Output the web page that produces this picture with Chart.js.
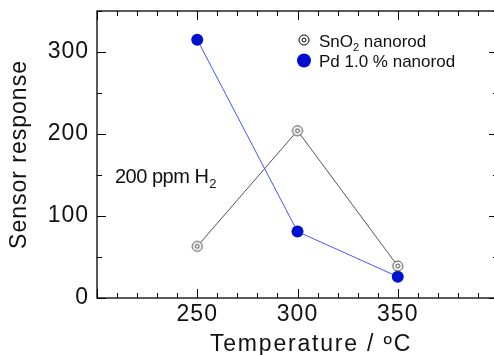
<!DOCTYPE html>
<html>
<head>
<meta charset="utf-8">
<script src="https://cdn.jsdelivr.net/npm/chart.js@4"></script>
<style>
  html, body { margin: 0; padding: 0; background: #fff; overflow: hidden; }
  #wrap { width: 494px; height: 355px; overflow: hidden; }
</style>
</head>
<body>
<div id="wrap"><canvas id="sensorChart" width="504" height="355"></canvas></div>
<script>
// data
const temperatures = [250, 300, 350];
const sno2Response = [63, 204, 39];
const pdResponse = [315, 81, 26];
const xTickLabels = [250, 300, 350];
const yTickLabels = [0, 100, 200, 300];

const FONT = '"Liberation Sans", Arial, sans-serif';

// double circle marker for SnO2
function ringMarker(size, color) {
  const c = document.createElement('canvas');
  c.width = size; c.height = size;
  const g = c.getContext('2d');
  const m = size / 2;
  g.fillStyle = '#fff';
  g.strokeStyle = color;
  g.lineWidth = 1;
  g.beginPath(); g.arc(m, m, 5, 0, Math.PI * 2); g.fill(); g.stroke();
  g.beginPath(); g.arc(m, m, 2, 0, Math.PI * 2); g.stroke();
  return c;
}
const sno2Marker = ringMarker(14, '#444');
const sno2LegendMarker = ringMarker(14, '#000');

// frame with inward ticks on all four sides, legend and note
const framePlugin = {
  id: 'frame',
  beforeDraw(chart) {
    chart.ctx.letterSpacing = '1px';
  },
  beforeDatasetsDraw(chart) {
    chart.ctx.letterSpacing = '0px';
  },
  afterDraw(chart) {
    const { ctx, chartArea: a, scales } = chart;
    const x = scales.x, y = scales.y;
    ctx.save();
    ctx.letterSpacing = '0px';
    ctx.strokeStyle = '#000';
    ctx.lineWidth = 1.3;
    ctx.strokeRect(a.left, a.top, a.right - a.left, a.bottom - a.top);
    ctx.lineWidth = 1;
    ctx.beginPath();
    for (let v = 200; v <= 400; v += 10) {
      const len = v % 50 === 0 ? 9 : 5;
      const px = Math.round(x.getPixelForValue(v)) + 0.5;
      ctx.moveTo(px, a.bottom); ctx.lineTo(px, a.bottom - len);
      ctx.moveTo(px, a.top); ctx.lineTo(px, a.top + len);
    }
    for (let v = 0; v <= 350; v += 50) {
      const len = v % 100 === 0 ? 9 : 5;
      const py = Math.round(y.getPixelForValue(v)) + 0.5;
      ctx.moveTo(a.left, py); ctx.lineTo(a.left + len, py);
      ctx.moveTo(a.right, py); ctx.lineTo(a.right - len, py);
    }
    ctx.stroke();

    // x axis title (offset right like the original)
    ctx.fillStyle = '#111';
    ctx.font = '23px ' + FONT;
    ctx.textAlign = 'center';
    ctx.textBaseline = 'alphabetic';
    ctx.letterSpacing = '1.8px';
    ctx.fillText('Temperature / ºC', 311, 351);
    ctx.letterSpacing = '0px';
    ctx.textAlign = 'left';

    // legend
    ctx.drawImage(sno2LegendMarker, 304 - 7, 40 - 7);
    ctx.fillStyle = '#0010d0';
    ctx.beginPath(); ctx.arc(304, 60.5, 7, 0, Math.PI * 2); ctx.fill();
    ctx.fillStyle = '#111';
    ctx.font = '17px ' + FONT;
    ctx.fillText('SnO', 319, 47);
    let w = ctx.measureText('SnO').width;
    ctx.font = '11px ' + FONT;
    ctx.fillText('2', 319 + w, 51);
    const w2 = ctx.measureText('2').width;
    ctx.font = '17px ' + FONT;
    ctx.fillText(' nanorod', 319 + w + w2, 47);
    ctx.fillText('Pd 1.0 % nanorod', 319, 67);

    // gas annotation
    ctx.font = '20px ' + FONT;
    ctx.letterSpacing = '-0.5px';
    ctx.fillText('200 ppm H', 115, 183);
    w = ctx.measureText('200 ppm H').width;
    ctx.letterSpacing = '0px';
    ctx.font = '13px ' + FONT;
    ctx.fillText('2', 115 + w + 1, 188);
    ctx.restore();
  }
};

new Chart(document.getElementById('sensorChart'), {
  type: 'line',
  data: {
    datasets: [
      {
        label: 'SnO2 nanorod',
        data: temperatures.map((t, i) => ({ x: t, y: sno2Response[i] })),
        borderColor: '#555',
        borderWidth: 1,
        pointStyle: sno2Marker,
        pointRadius: 5,
        tension: 0
      },
      {
        label: 'Pd 1.0 % nanorod',
        data: temperatures.map((t, i) => ({ x: t, y: pdResponse[i] })),
        borderColor: '#4455ff',
        borderWidth: 1,
        pointStyle: 'circle',
        pointRadius: 6,
        pointBackgroundColor: '#0010d0',
        pointBorderColor: '#0010d0',
        pointBorderWidth: 0,
        tension: 0
      }
    ]
  },
  options: {
    responsive: false,
    animation: false,
    layout: { padding: { top: 11, right: 2 } },
    plugins: { legend: { display: false }, tooltip: { enabled: false } },
    scales: {
      x: {
        type: 'linear',
        min: 200,
        max: 400,
        afterBuildTicks(s) { s.ticks = xTickLabels.map(v => ({ value: v })); },
        afterFit(s) { s.height = 57; s.paddingLeft = 0; s.paddingRight = 0; },
        grid: { display: false, drawTicks: false },
        border: { display: false },
        ticks: { color: '#111', padding: 3, maxRotation: 0, font: { family: FONT, size: 23 } },
        title: { display: false }
      },
      y: {
        min: 0,
        max: 350,
        afterBuildTicks(s) { s.ticks = yTickLabels.map(v => ({ value: v })); },
        afterFit(s) { s.width = 97; s.paddingTop = 0; s.paddingBottom = 0; },
        grid: { display: false, drawTicks: false },
        border: { display: false },
        ticks: { color: '#111', padding: 8, font: { family: FONT, size: 23 } },
        title: { display: true, text: 'Sensor response', color: '#111', padding: { top: 8, bottom: 0 }, font: { family: FONT, size: 23, lineHeight: 1 } }
      }
    }
  },
  plugins: [framePlugin]
});
</script>
</body>
</html>
